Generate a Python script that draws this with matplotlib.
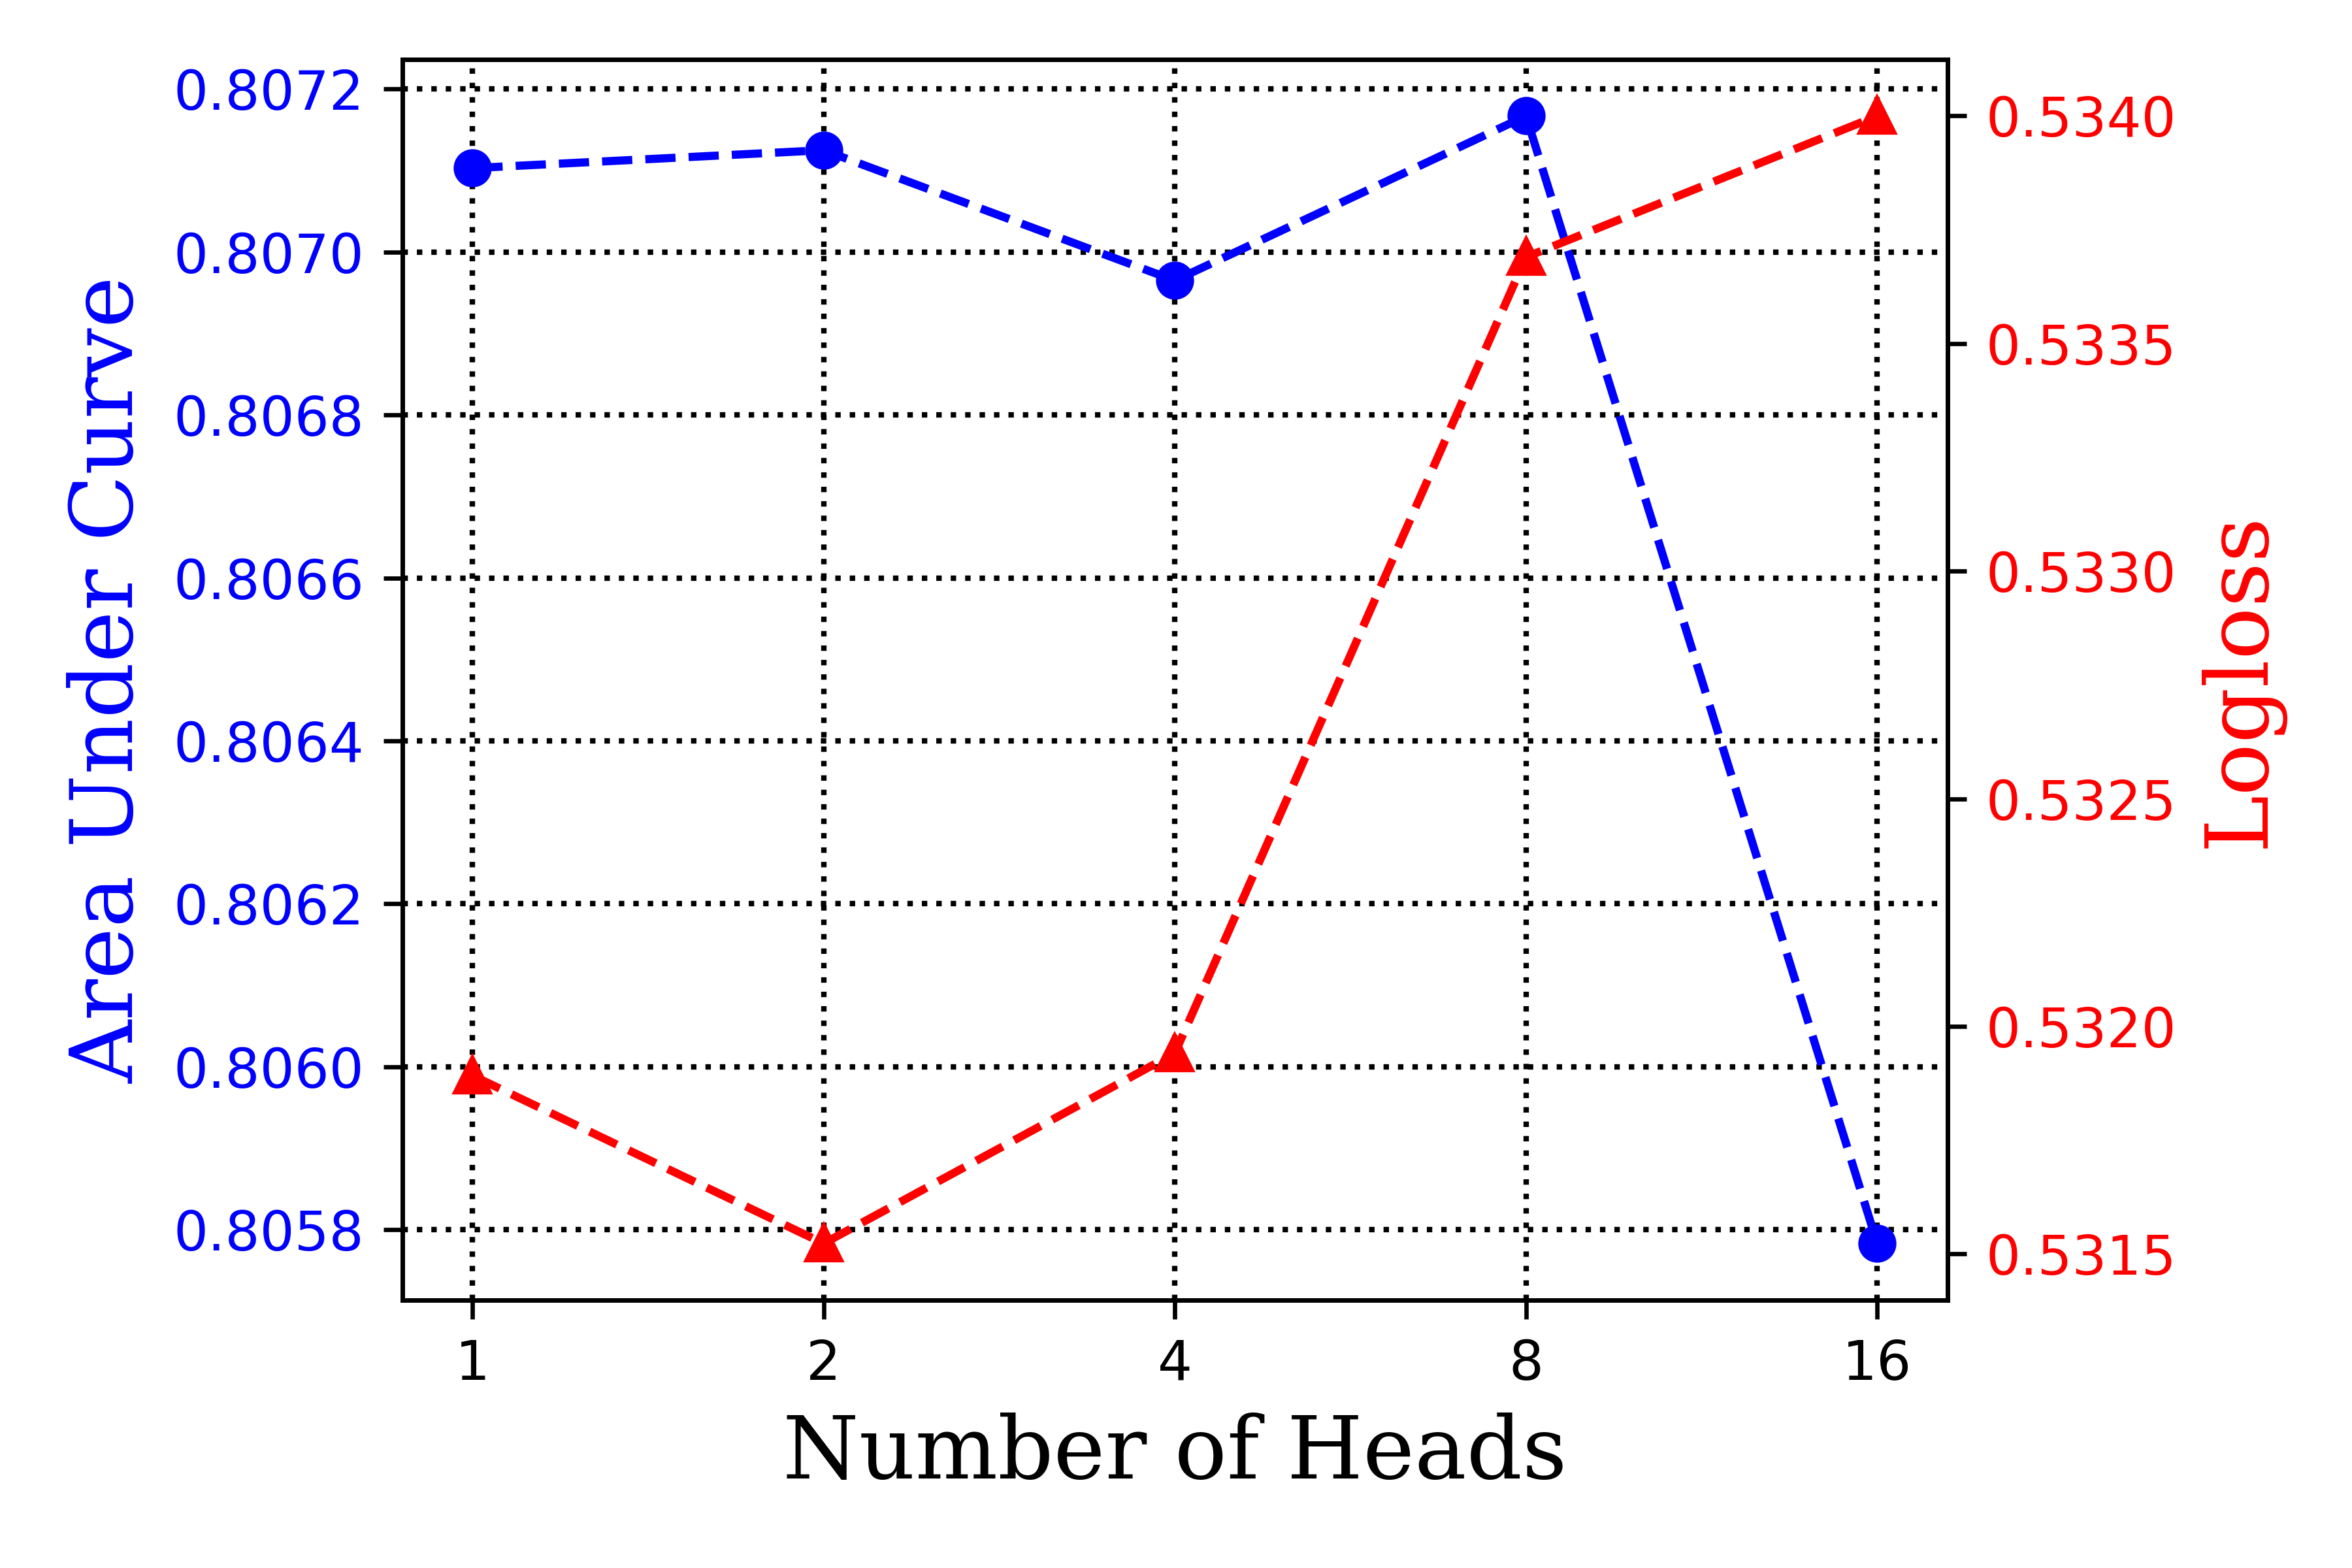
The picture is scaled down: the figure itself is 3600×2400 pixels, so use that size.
import numpy as np
import matplotlib
matplotlib.use('Agg')
import matplotlib.pyplot as plt
from matplotlib.ticker import MultipleLocator, FormatStrFormatter

heads = ['1', '2', '4', '8', '16']
auc = [0.807103, 0.807125, 0.806965, 0.807167, 0.805783]
logloss = [0.531892, 0.531523, 0.531941, 0.533690, 0.534000]

x = np.arange(len(heads))

fig, ax1 = plt.subplots(figsize=(6, 4), dpi=600)
ax1.plot(x, auc, 'b--o', linewidth=1.5, markersize=6)
ax1.set_xticks(x)
ax1.set_xticklabels(heads)
ax1.set_xlabel('Number of Heads', family='serif', fontsize=16)
ax1.set_ylabel('Area Under Curve', family='serif', fontsize=16, color='blue')
ax1.yaxis.set_major_locator(MultipleLocator(0.0002))
ax1.yaxis.set_major_formatter(FormatStrFormatter('%.4f'))
ax1.tick_params(axis='y', labelcolor='blue')
ax1.grid(True, color='black', linestyle=':', linewidth=1)

ax2 = ax1.twinx()
ax2.plot(x, logloss, 'r--^', linewidth=1.5, markersize=6)
ax2.set_ylabel('Logloss', family='serif', fontsize=16, color='red')
ax2.yaxis.set_major_locator(MultipleLocator(0.0005))
ax2.yaxis.set_major_formatter(FormatStrFormatter('%.4f'))
ax2.tick_params(axis='y', labelcolor='red')

plt.subplots_adjust(left=0.171, right=0.828, top=0.962, bottom=0.171)
plt.savefig('out.png', dpi=600)
